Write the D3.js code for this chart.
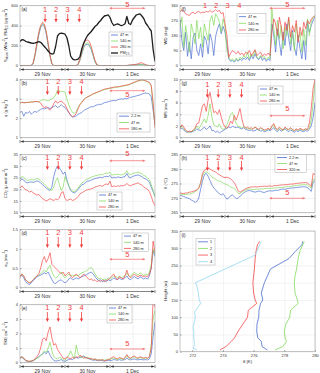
<!DOCTYPE html>
<html>
<head>
<meta charset="utf-8">
<script src="https://cdn.jsdelivr.net/npm/d3@7/dist/d3.min.js"></script>
<style>
  body { margin: 0; background: #fff; }
  svg { display: block; font-family: "Liberation Sans", Arial, sans-serif; }
  .axis path { display: none; }
  .axis line { stroke: #555; stroke-width: 0.5; }
  .axis text { font-size: 4px; fill: #333; }
  .grid line { stroke: #e6e6e6; stroke-width: 0.5; }
  .grid path { display: none; }
</style>
</head>
<body>
<svg id="chart" width="320" height="373"></svg>
<script>
// hours since 29 Nov 00:00 (local)
var hours = d3.range(0, 73);
var dayStarts = [0, 24, 48];
var dayLabels = ['29 Nov', '30 Nov', '1 Dec'];
var gridHours = [12, 24, 36, 48, 60];
var eventTimes = [14.6, 20.4, 26.6, 32.8];
var period5 = [47.5, 67];

// (a) downward shortwave and PM2.5
var sdown47 = [0,0,0,0,0,0,0, 20,98,205,305,378,408,390,318,205,92,15, 0,0,0,0,0,0,0,0,0,0,0,0,0,
  10,55,118,180,208,212,200,158,98,38,5, 0,0,0,0,0,0,0,0,0,0,0,0,0,0,0,0, 2,3,5,6,7,9,10,10,7,3,1, 0,0,0,0];
var sdown140 = [0,0,0,0,0,0,0, 22,104,215,318,390,420,402,330,215,98,17, 0,0,0,0,0,0,0,0,0,0,0,0,0,
  12,60,125,190,220,225,212,168,105,42,6, 0,0,0,0,0,0,0,0,0,0,0,0,0,0,0,0, 2,4,5,6,8,10,12,12,8,4,1, 0,0,0,0];
var sdown280 = [0,0,0,0,0,0,0, 25,110,225,330,400,432,415,340,225,105,20, 0,0,0,0,0,0,0,0,0,0,0,0,0,
  15,70,145,215,250,255,240,190,120,50,8, 0,0,0,0,0,0,0,0,0,0,0,0,0,0,0,0, 3,5,8,10,12,18,25,28,18,8,2, 0,0,0,0];
var pm25 = [240,258,255,242,235,230,225,222,226,232, 238,232,212,190,168,145,123,115,118,190,
  295,318,323,320,313,280,200,95,66,57, 58,63,90,170,225,265,300,320,340,365,
  390,405,430,450,475,495,500,507,480,430, 400,410,417,408,398,405,417,490,420,410,
  455,480,505,512,517,495,470,425,400,370, 345,160,40];

// (b) specific humidity
var q22 = [2.3,2.35,2.1,2.3,2.25,2.35,2.2,2.3,2.35,2.3, 2.4,2.45,2.5,2.48,2.52,2.55,2.5,2.55,2.6,2.65,
  2.55,2.6,2.7,2.6,2.55,2.45,2.3,2.15,2.05,2.08, 2.12,2.2,2.25,2.3,2.4,2.45,2.5,2.55,2.6,2.58,
  2.65,2.68,2.72,2.7,2.75,2.8,2.82,2.85,2.88,2.9, 2.92,2.9,2.95,2.98,3.0,2.98,3.02,3.0,3.05,3.08,
  3.1,3.12,3.15,3.18,3.2,3.25,3.28,3.3,3.28,3.25, 3.1,2.4,1.7];
var q47 = [2.78,2.82,2.8,2.8,2.82,2.82,2.84,2.84,2.86,2.86, 2.86,2.9,2.95,2.95,2.92,2.9,2.95,3.0,3.05,3.2,
  3.45,3.42,3.38,3.38,3.35,3.0,2.7,2.45,2.3,2.25, 2.35,2.55,2.72,2.85,2.96,3.04,3.1,3.14,3.2,3.25,
  3.28,3.32,3.36,3.4,3.44,3.48,3.5,3.52,3.54,3.56, 3.57,3.6,3.6,3.62,3.64,3.66,3.68,3.7,3.72,3.76,
  3.8,3.84,3.88,3.92,3.95,3.96,3.95,3.92,3.88,3.82, 3.65,2.6,1.6];
var q180 = [2.78,2.82,2.8,2.8,2.82,2.82,2.84,2.84,2.86,2.86, 2.84,2.78,2.62,2.55,2.6,2.5,2.42,2.55,2.75,2.9,
  2.78,2.85,2.88,2.8,2.7,2.5,2.3,2.15,2.08,2.12, 2.25,2.5,2.7,2.82,2.95,3.05,3.1,3.15,3.2,3.26,
  3.3,3.34,3.38,3.42,3.46,3.5,3.52,3.54,3.56,3.58, 3.6,3.62,3.62,3.64,3.66,3.68,3.7,3.72,3.74,3.78,
  3.82,3.86,3.9,3.94,3.97,3.98,3.97,3.94,3.9,3.85, 3.7,2.8,1.5];

// (c) CO2
var co2_47 = [23.5,24.5,24.0,23.0,22.8,23.0,23.2,23.0,23.2,23.6, 23.4,22.8,22.0,21.2,20.5,20.0,19.5,21.0,25.5,28.5,
  30.0,29.2,28.0,26.5,27.5,24.0,21.5,19.5,18.8,18.5, 19.0,20.0,21.0,22.0,22.2,23.0,23.5,23.6,24.0,24.3,
  24.6,24.8,25.0,25.2,25.0,25.5,25.6,25.4,26.0,24.8, 25.2,25.0,25.3,25.2,25.0,25.3,25.5,26.8,25.2,25.0,
  25.5,25.8,26.0,26.2,25.8,25.5,24.8,24.5,24.0,23.0, 21.0,19.0,17.0];
var co2_140 = [24.5,25.5,25.2,24.2,23.8,24.0,24.2,24.0,24.3,24.6, 24.4,23.8,23.0,22.2,21.5,20.6,20.0,19.5,21.0,23.5,
  25.0,22.0,19.5,21.0,25.5,23.5,21.5,20.0,19.2,19.0, 19.5,20.5,21.8,22.8,23.2,24.0,24.5,24.8,25.2,25.5,
  25.8,26.0,26.2,26.4,26.2,26.8,27.0,26.8,27.4,26.0, 26.4,26.3,26.5,26.4,26.2,26.5,26.8,28.0,26.5,26.3,
  26.8,27.0,27.2,27.4,27.0,26.8,26.0,25.6,25.0,24.2, 22.0,19.5,16.5];
var co2_280 = [20.5,21.5,20.5,19.8,19.5,18.8,19.2,18.5,18.0,17.5, 17.8,16.8,16.0,15.5,15.0,15.4,16.0,15.5,15.2,15.8,
  15.5,16.2,18.5,19.0,16.0,15.2,15.5,15.8,15.2,15.5, 16.0,17.0,18.0,18.5,19.0,19.5,19.8,20.0,20.2,20.5,
  21.0,21.2,21.5,21.6,21.3,22.0,22.3,22.0,23.5,21.0, 21.5,21.2,21.5,21.3,21.6,21.5,21.8,22.5,21.8,21.5,
  22.0,22.2,22.5,22.8,22.2,21.8,21.0,20.5,20.0,19.0, 17.0,14.5,13.0];

// (d) sigma_w
var sw47 = [0.3,0.32,0.25,0.15,0.1,0.08,0.12,0.18,0.22,0.28, 0.3,0.32,0.35,0.38,0.35,0.4,0.3,0.2,0.12,0.1,
  0.15,0.18,0.2,0.15,0.12,0.15,0.22,0.25,0.2,0.22, 0.25,0.22,0.25,0.28,0.3,0.32,0.35,0.38,0.4,0.35,
  0.28,0.22,0.18,0.2,0.15,0.18,0.15,0.2,0.18,0.2, 0.25,0.22,0.2,0.25,0.2,0.22,0.25,0.3,0.22,0.2,
  0.25,0.28,0.25,0.22,0.28,0.25,0.22,0.25,0.22,0.3, 0.5,0.95,0.8];
var sw140 = [0.3,0.35,0.28,0.2,0.15,0.12,0.15,0.2,0.25,0.3, 0.32,0.35,0.4,0.45,0.4,0.5,0.58,0.4,0.3,0.25,
  0.28,0.35,0.4,0.3,0.25,0.3,0.35,0.3,0.32,0.3, 0.32,0.3,0.35,0.38,0.4,0.42,0.45,0.5,0.52,0.45,
  0.35,0.28,0.22,0.25,0.2,0.22,0.2,0.25,0.22,0.25, 0.3,0.28,0.25,0.3,0.25,0.28,0.3,0.38,0.3,0.28,
  0.35,0.4,0.35,0.32,0.38,0.35,0.3,0.35,0.32,0.4, 0.6,1.0,0.85];
var sw280 = [0.25,0.35,0.3,0.2,0.15,0.12,0.15,0.2,0.25,0.3, 0.35,0.5,0.7,0.8,0.65,0.75,0.9,0.6,0.55,0.5,
  0.45,0.4,0.35,0.4,0.3,0.35,0.4,0.3,0.25,0.3, 0.35,0.3,0.25,0.3,0.35,0.3,0.25,0.2,0.22,0.18,
  0.2,0.15,0.18,0.15,0.2,0.15,0.18,0.2,0.25,0.3, 0.35,0.25,0.2,0.28,0.25,0.22,0.3,0.45,0.3,0.25,
  0.3,0.35,0.3,0.28,0.32,0.3,0.28,0.3,0.28,0.35, 0.5,1.2,0.9];

// (e) TKE
var tke47 = [0.3,0.35,0.25,0.12,0.08,0.06,0.08,0.12,0.2,0.3, 0.4,0.5,0.6,0.7,0.6,0.8,0.5,0.3,0.15,0.1,
  0.12,0.15,0.2,0.1,0.08,0.15,0.2,0.25,0.2,0.3, 0.35,0.3,0.35,0.4,0.45,0.35,0.3,0.25,0.2,0.15,
  0.18,0.15,0.12,0.15,0.12,0.1,0.12,0.15,0.12,0.15, 0.2,0.18,0.15,0.2,0.15,0.18,0.2,0.3,0.2,0.18,
  0.22,0.25,0.2,0.18,0.22,0.2,0.18,0.2,0.18,0.25, 0.6,1.8,2.8];
var tke140 = [0.35,0.4,0.3,0.15,0.1,0.08,0.1,0.15,0.2,0.3, 0.35,0.45,0.6,0.8,0.7,1.0,1.4,0.8,0.4,0.3,
  0.25,0.35,0.3,0.2,0.15,0.3,0.5,0.8,0.5,0.3, 1.2,0.6,0.4,0.35,0.4,0.3,0.35,0.3,0.25,0.2,
  0.25,0.2,0.15,0.2,0.18,0.15,0.2,0.22,0.2,0.28, 0.3,0.25,0.2,0.3,0.25,0.2,0.3,0.45,0.3,0.25,
  0.35,0.38,0.3,0.28,0.35,0.3,0.28,0.3,0.28,0.4, 1.2,3.0,3.6];
var tke280 = [0.3,0.4,0.3,0.15,0.1,0.08,0.1,0.15,0.25,0.4, 0.6,1.0,1.6,1.7,1.5,2.1,2.45,1.7,1.2,1.3,
  0.9,0.7,0.5,0.3,0.25,0.4,0.3,0.25,0.35,0.3, 0.4,0.35,0.5,0.4,0.3,0.35,0.3,0.25,0.3,0.2,
  0.25,0.15,0.2,0.15,0.2,0.12,0.15,0.2,0.25,0.35, 0.4,0.3,0.25,0.35,0.3,0.25,0.35,0.55,0.35,0.3,
  0.4,0.45,0.35,0.3,0.4,0.35,0.3,0.35,0.3,0.4, 1.0,4.5,3.8];

// (f) wind direction
var wd47 = [275,150,90,200,55,140,40,170,195,90, 60,130,50,175,150,70,190,150,60,175,
  220,250,190,235,200,130,40,25,30,20, 35,25,40,30,45,35,50,30,60,40,
  70,45,35,55,30,45,25,40,30,250, 180,80,220,140,60,200,120,250,160,90,
  210,110,60,180,100,40,150,35,260,200, 240,270,290];
var wd140 = [230,290,110,240,170,80,250,200,130,270, 160,230,110,250,200,150,270,300,240,310,
  290,260,200,280,230,90,50,30,40,25, 45,30,50,40,60,45,80,40,70,55,
  90,50,40,60,45,55,35,50,40,340, 220,120,270,160,240,100,230,180,280,130,
  200,90,250,150,200,80,220,120,280,180, 260,290,295];
var wd280 = [320,335,325,310,305,300,315,320,310,320, 325,315,320,318,325,320,330,320,325,335,
  325,330,310,318,250,180,50,75,90,80, 70,85,65,75,60,80,70,90,60,75,
  95,60,70,80,55,70,60,75,60,200, 280,250,180,290,230,150,260,210,290,170,
  240,200,270,140,230,180,260,220,270,250, 280,290,300];

// (g) wind speed
var ws47 = [1.5,1.6,1.3,1.0,0.9,1.0,0.9,1.1,1.2,1.5, 1.3,1.2,1.5,1.8,1.4,1.6,2.0,1.2,1.2,0.9,
  1.1,0.8,1.0,1.2,1.4,1.6,1.8,1.7,1.9,1.8, 1.7,1.8,1.6,1.5,1.7,1.4,1.3,1.2,1.3,1.1,
  1.2,1.4,1.3,1.1,1.2,1.0,1.1,1.3,1.2,1.4, 1.7,1.2,1.0,1.4,1.1,1.3,1.5,1.2,1.0,1.3,
  1.1,0.9,1.2,1.0,1.3,1.1,1.0,1.2,1.1,1.4, 2.0,3.5,6.0];
var ws140 = [1.8,2.0,1.5,1.2,1.0,0.9,1.0,1.1,1.4,2.0, 1.5,2.0,2.6,3.2,2.5,3.8,5.8,3.5,2.2,2.0,
  1.8,2.3,1.6,1.4,1.6,2.2,3.0,4.0,4.3,3.2, 2.4,1.9,1.8,1.6,1.9,1.7,1.5,1.6,1.4,1.6,
  1.8,1.5,1.3,1.6,1.4,1.2,1.3,1.5,1.4,1.8, 2.2,1.5,1.3,1.6,1.4,1.2,1.7,1.4,1.3,1.6,
  1.3,1.1,1.4,1.2,1.5,1.3,1.2,1.4,1.3,1.7, 3.0,6.0,9.5];
var ws280 = [1.6,2.2,1.8,1.3,1.0,1.1,1.0,1.3,1.6,2.4, 2.5,4.0,5.5,5.8,4.5,6.5,7.8,6.0,4.3,4.5,
  4.0,4.8,3.5,2.4,1.8,1.6,2.0,2.8,2.4,3.8, 3.0,4.0,5.0,3.2,2.0,1.6,1.8,1.5,1.7,1.4,
  1.8,1.6,1.4,1.7,1.5,1.3,1.4,1.6,1.3,2.0, 2.4,1.6,1.4,1.8,1.5,1.3,1.8,1.5,1.4,1.7,
  1.4,1.2,1.5,1.3,1.6,1.4,1.3,1.5,1.4,2.5, 5.0,8.5,10];

// (h) potential temperature
var th22 = [271.0,270.8,270.5,270.2,270.0,269.8,269.3,269.0,268.5,268.8, 270.0,273.0,276.0,278.0,278.5,277.5,276.0,274.5,273.5,272.8,
  272.0,271.5,271.0,271.5,270.5,269.6,270.0,270.8,271.0,270.4, 269.8,270.0,270.6,271.2,271.8,272.2,272.5,272.6,272.4,272.2,
  272.0,272.2,272.4,272.3,272.0,271.9,272.2,272.4,272.5,272.4, 272.5,272.7,272.6,272.8,273.0,273.1,273.0,273.2,273.3,273.4,
  273.5,273.5,273.6,273.7,273.8,273.8,273.9,273.8,273.6,272.8, 272.3,275.5,276.0];
var th47 = [271.5,271.3,271.2,271.2,271.3,271.4,271.5,271.8,272.2,272.6, 273.5,275.5,277.8,278.8,279.0,278.7,278.0,277.2,276.8,276.5,
  276.0,275.8,275.6,275.2,274.8,274.6,274.2,273.8,273.5,273.2, 272.6,271.6,271.5,272.0,272.5,272.8,273.0,273.2,273.0,272.9,
  273.0,273.1,273.0,273.2,273.1,273.2,273.3,273.3,273.4,273.3, 273.4,273.5,273.5,273.6,273.6,273.7,273.8,273.9,274.0,274.0,
  274.1,274.2,274.3,274.4,274.5,274.5,274.6,274.6,274.5,273.8, 273.5,276.5,276.5];
var th320 = [271.8,271.6,271.6,271.7,271.8,272.0,272.1,272.3,272.5,272.8, 273.5,275.0,278.5,279.6,280.0,280.2,280.0,279.6,279.2,279.0,
  278.4,278.0,277.6,277.2,277.0,277.2,277.0,276.6,276.0,275.2, 274.0,272.5,272.0,272.4,272.8,273.2,273.5,273.7,273.8,273.8,
  273.9,273.8,273.9,274.0,274.0,274.1,274.0,274.1,274.2,274.0, 274.2,274.3,274.3,274.4,274.5,274.5,274.6,274.6,274.7,274.8,
  274.8,274.9,275.0,275.1,275.2,275.2,275.3,275.3,275.2,274.5, 274.0,278.5,278.0];

// (i) sounding profiles 1-4
var prof1H = [5,15,30,40,60,80,100,120,140,150,170,200,220,240,270,290,310,320];
var prof1T = [276.9,276.55,276.5,276.27,276.2,276.22,276.33,276.35,276.45,276.6,276.5,276.7,276.9,277.1,278.3,278.7,279.15,279.2];
var prof2H = [5,15,30,40,60,80,100,120,140,150,170,200,220,240,270,290,310,320];
var prof2T = [277.4,277.9,278.15,278.05,278.0,278.1,278.35,278.4,278.9,278.85,278.7,278.65,278.7,278.8,278.9,279.0,279.2,279.3];
var prof3H = [5,15,30,40,60,80,100,120,140,150,170,200,220,240,270,290,310,320];
var prof3T = [273.8,274.2,274.55,274.75,275.0,275.3,275.6,275.65,276.2,276.1,276.0,275.95,276.0,276.05,276.1,276.15,276.25,276.4];
var prof4H = [5,10,20,40,60,70,90,100,115,125,140,150,170,190,200,280,300,320];
var prof4T = [272.3,272.05,272.15,272.1,272.1,272.05,272.15,272.2,272.15,272.3,272.55,272.45,272.4,272.3,272.2,276.1,276.3,276.5];

var blue = '#4d6fd1', green = '#82da5c', red = '#f24848', annoRed = '#f23c3c', cyan = '#92d8ef', black = '#1e1e1e';
var cols = [[20, 155], [180, 315]];
var rows = [[5.5, 65.5], [79.5, 137.5], [154.5, 212.5], [229.5, 287.5], [304.5, 362.5]];

var panels = [
  { key: 'a', col: 0, row: 0, dom: [0, 600], ticks: [0, 200, 400, 600],
    label: [['S'], ['down', 'sub'], [' (Wm'], ['-2', 'sup'], ['), PM'], ['2.5', 'sub'], [' (\u03bcg m'], ['-3', 'sup'], [')']],
    series: [[sdown47, blue], [sdown140, green], [sdown280, red], [pm25, black, 1.3]],
    legend: { x: 109, y: 32, w: 23, h: 24, items: [['47 m', blue], ['140 m', green], ['280 m', red], [[['PM'], ['2.5', 'sub']], black, 1.3]] },
    num: 9.5, arr: [14, 22.5], shift: -1.2, p5: 8.3, p5l: 4.3 },
  { key: 'b', col: 0, row: 1, dom: [1, 4], ticks: [1, 2, 3, 4],
    label: [['q (g kg'], ['-1', 'sup'], [')']],
    series: [[q22, blue], [q47, green], [q180, red]],
    legend: { x: 117, y: 113, w: 33, h: 19, line: 10, items: [['2.2 m', blue], ['47 m', green], ['180 m', red]] },
    num: 81.7, arr: [86, 95], shift: 0, p5: 90.7, p5l: 94.5 },
  { key: 'c', col: 0, row: 2, dom: [10, 35], ticks: [10, 15, 20, 25, 30, 35],
    label: [['CO'], ['2', 'sub'], [' (\u03bc mol m'], ['-3', 'sup'], [')']],
    series: [[co2_47, blue], [co2_140, green], [co2_280, red]],
    legend: { x: 97, y: 192, w: 25, h: 18, items: [['47 m', blue], ['140 m', green], ['280 m', red]] },
    num: 157, arr: [161, 170], shift: 0, p5: 160.7, p5l: 153 },
  { key: 'd', col: 0, row: 3, dom: [0, 1.5], ticks: [0, 0.5, 1, 1.5],
    label: [['\u03c3'], ['w', 'sub'], [' (ms'], ['-1', 'sup'], [')']],
    series: [[sw47, blue], [sw140, green], [sw280, red]],
    legend: { x: 122, y: 233, w: 26.5, h: 18.5, items: [['47 m', blue], ['140 m', green], ['280 m', red]] },
    num: 232.3, arr: [237, 248], shift: 0, p5: 259.3, p5l: 254 },
  { key: 'e', col: 0, row: 4, dom: [0, 4], ticks: [0, 1, 2, 3, 4],
    label: [['TKE (m'], ['2', 'sup'], [' s'], ['-2', 'sup'], [')']],
    series: [[tke47, blue], [tke140, green], [tke280, red]],
    legend: { x: 107, y: 305, w: 25, h: 18, items: [['47 m', blue], ['140 m', green], ['280 m', red]] },
    num: 307, arr: [312, 322], shift: 0, p5: 349, p5l: 343 },
  { key: 'f', col: 1, row: 0, dom: [0, 360], ticks: [0, 90, 180, 270, 360],
    label: [['WD (deg)']],
    series: [[wd47, blue], [wd140, green], [wd280, red]],
    legend: { x: 237, y: 13.3, w: 29, h: 20, items: [['47 m', blue], ['140 m', green], ['280 m', red]] },
    num: 5.2, arr: null, shift: -1.2, p5: 8.3, p5l: 4.2 },
  { key: 'g', col: 1, row: 1, dom: [0, 10], ticks: [0, 2, 4, 6, 8, 10],
    label: [['WS (ms'], ['-1', 'sup'], [')']],
    series: [[ws47, blue], [ws140, green], [ws280, red]],
    legend: { x: 258, y: 86, w: 25, h: 18, items: [['47 m', blue], ['140 m', green], ['280 m', red]] },
    num: 84, arr: [89, 98], shift: 0, p5: 115.7, p5l: 108 },
  { key: 'h', col: 1, row: 2, dom: [265, 285], ticks: [265, 270, 275, 280, 285],
    label: [['\u03b8 (\u00b0C)']],
    series: [[th22, blue], [th47, green], [th320, red]],
    legend: { x: 275, y: 154.5, w: 31.5, h: 18, line: 10, items: [['2.2 m', blue], ['47 m', green], ['320 m', red]] },
    num: 157, arr: [161, 171], shift: 0, p5: 198.3, p5l: 192 }
];

var svg = d3.select('#chart');

function rich(sel, pieces, fs) {
  var cur = 0;
  pieces.forEach(function (p) {
    var target = p[1] === 'sub' ? fs * 0.3 : p[1] === 'sup' ? -fs * 0.4 : 0;
    sel.append('tspan').attr('dy', target - cur).attr('font-size', p[1] ? fs * 0.72 : fs).text(p[0]);
    cur = target;
  });
}

function legend(g, L) {
  var ll = L.line || 7;
  g.append('rect').attr('x', L.x).attr('y', L.y).attr('width', L.w).attr('height', L.h)
    .attr('fill', '#fff').attr('stroke', '#9a9a9a').attr('stroke-width', 0.4);
  var rowH = L.h / L.items.length;
  L.items.forEach(function (it, i) {
    var cy = L.y + rowH * (i + 0.5);
    g.append('line').attr('x1', L.x + 2).attr('x2', L.x + 2 + ll).attr('y1', cy).attr('y2', cy)
      .attr('stroke', it[1]).attr('stroke-width', it[2] || 0.8);
    var t = g.append('text').attr('x', L.x + 4 + ll).attr('y', cy + 1.3).attr('font-size', 3.8).attr('fill', '#222');
    if (typeof it[0] === 'string') t.text(it[0]); else rich(t, it[0], 3.8);
  });
}

function arrowHead(g, x, y, dir, col) {
  // dir: 'down', 'left', 'right'
  var d = dir === 'down' ? 'M' + x + ',' + y + 'l-1.6,-3.4h3.2z'
    : dir === 'left' ? 'M' + x + ',' + y + 'l3,-1.3v2.6z'
    : 'M' + x + ',' + y + 'l-3,-1.3v2.6z';
  g.append('path').attr('d', d).attr('fill', col);
}

function annotate(g, x, p) {
  eventTimes.forEach(function (t, i) {
    var xe = x(t + p.shift);
    g.append('text').attr('x', xe).attr('y', p.num).attr('dy', '0.36em').attr('text-anchor', 'middle')
      .attr('font-size', 7.5).attr('fill', annoRed).text(i + 1);
    if (p.arr) {
      g.append('line').attr('x1', xe).attr('x2', xe).attr('y1', p.arr[0]).attr('y2', p.arr[1] - 3)
        .attr('stroke', annoRed).attr('stroke-width', 0.8);
      arrowHead(g, xe, p.arr[1], 'down', annoRed);
    }
  });
  var xa = x(period5[0]), xb = x(period5[1]);
  g.append('line').attr('x1', xa + 2).attr('x2', xb - 2).attr('y1', p.p5).attr('y2', p.p5)
    .attr('stroke', '#f67a7a').attr('stroke-width', 0.8);
  arrowHead(g, xa, p.p5, 'left', '#f67a7a');
  arrowHead(g, xb, p.p5, 'right', '#f67a7a');
  g.append('text').attr('x', x((period5[0] + period5[1]) / 2)).attr('y', p.p5l).attr('dy', '0.36em')
    .attr('text-anchor', 'middle').attr('font-size', 7.5).attr('fill', annoRed).text('5');
}

function dayArrows(g, x, yy) {
  dayStarts.forEach(function (d, i) {
    var xa = x(d) + 0.7, xb = x(d + 24) - 0.7;
    g.append('line').attr('x1', xa).attr('x2', xb).attr('y1', yy).attr('y2', yy)
      .attr('stroke', '#333').attr('stroke-width', 0.6);
    arrowHead(g, xa, yy, 'left', '#333');
    arrowHead(g, xb, yy, 'right', '#333');
    g.append('text').attr('x', x(d + 12)).attr('y', yy + 6.3).attr('text-anchor', 'middle')
      .attr('font-size', 5).attr('fill', '#333').text(dayLabels[i]);
  });
  [0, 24, 48, 72].forEach(function (d) {
    g.append('line').attr('x1', x(d)).attr('x2', x(d)).attr('y1', yy - 1.6).attr('y2', yy + 1.6)
      .attr('stroke', '#333').attr('stroke-width', 0.6);
  });
}

panels.forEach(function (p) {
  var xr = cols[p.col], yr = rows[p.row];
  var x = d3.scaleLinear().domain([0, 72]).range(xr);
  var y = d3.scaleLinear().domain(p.dom).range([yr[1], yr[0]]);
  var g = svg.append('g');
  var clipId = 'clip-' + p.key;
  svg.append('clipPath').attr('id', clipId).append('rect')
    .attr('x', xr[0]).attr('y', yr[0]).attr('width', xr[1] - xr[0]).attr('height', yr[1] - yr[0]);

  // grid
  g.append('g').attr('class', 'grid').attr('transform', 'translate(' + xr[0] + ',0)')
    .call(d3.axisLeft(y).tickValues(p.ticks).tickSize(-(xr[1] - xr[0])).tickFormat(''));
  g.append('g').attr('class', 'grid').attr('transform', 'translate(0,' + yr[1] + ')')
    .call(d3.axisBottom(x).tickValues(gridHours).tickSize(yr[0] - yr[1]).tickFormat(''));

  // lines
  var line = d3.line().x(function (d, i) { return x(hours[i]); }).y(function (d) { return y(d); });
  p.series.forEach(function (s) {
    g.append('path').attr('clip-path', 'url(#' + clipId + ')').attr('d', line(s[0]))
      .attr('fill', 'none').attr('stroke', s[1]).attr('stroke-width', s[2] || 0.7).attr('stroke-linejoin', 'round');
  });

  // frame + y axis
  g.append('rect').attr('x', xr[0]).attr('y', yr[0]).attr('width', xr[1] - xr[0]).attr('height', yr[1] - yr[0])
    .attr('fill', 'none').attr('stroke', '#8c8c8c').attr('stroke-width', 0.5);
  g.append('g').attr('class', 'axis').attr('transform', 'translate(' + xr[0] + ',0)')
    .call(d3.axisLeft(y).tickValues(p.ticks).tickSize(-1.5).tickPadding(2).tickFormat(d3.format('')));

  var yl = g.append('text').attr('transform', 'translate(' + (xr[0] - 13) + ',' + ((yr[0] + yr[1]) / 2) + ') rotate(-90)')
    .attr('text-anchor', 'middle').attr('font-size', 4.2).attr('fill', '#222');
  rich(yl, p.label, 4.2);

  g.append('text').attr('x', xr[0] + 1.5).attr('y', yr[0] + 5).attr('font-size', 4.5).attr('fill', '#111').text('(' + p.key + ')');

  legend(g, p.legend);
  annotate(g, x, p);
  dayArrows(g, x, yr[1] + 4);
});

// (i) profiles
(function () {
  var xi = d3.scaleLinear().domain([271.2, 280]).range([180, 315]);
  var yi = d3.scaleLinear().domain([0, 350]).range([351.7, 231]);
  var g = svg.append('g');
  var xt = [272, 274, 276, 278, 280], yt = d3.range(0, 351, 50);
  g.append('g').attr('class', 'grid').attr('transform', 'translate(180,0)')
    .call(d3.axisLeft(yi).tickValues(yt).tickSize(-135).tickFormat(''));
  g.append('g').attr('class', 'grid').attr('transform', 'translate(0,351.7)')
    .call(d3.axisBottom(xi).tickValues(xt).tickSize(-120.7).tickFormat(''));

  var profs = [[prof1H, prof1T, blue], [prof2H, prof2T, green], [prof3H, prof3T, red], [prof4H, prof4T, cyan]];
  profs.forEach(function (pr) {
    var line = d3.line().x(function (d, i) { return xi(pr[1][i]); }).y(function (d) { return yi(d); });
    g.append('path').attr('d', line(pr[0])).attr('fill', 'none').attr('stroke', pr[2]).attr('stroke-width', 0.8);
  });

  g.append('rect').attr('x', 180).attr('y', 231).attr('width', 135).attr('height', 120.7)
    .attr('fill', 'none').attr('stroke', '#8c8c8c').attr('stroke-width', 0.5);
  g.append('g').attr('class', 'axis').attr('transform', 'translate(180,0)')
    .call(d3.axisLeft(yi).tickValues(yt).tickSize(-1.5).tickPadding(2));
  g.append('g').attr('class', 'axis').attr('transform', 'translate(0,351.7)')
    .call(d3.axisBottom(xi).tickValues(xt).tickSize(-1.5).tickPadding(2.5));

  g.append('text').attr('transform', 'translate(167,291) rotate(-90)').attr('text-anchor', 'middle')
    .attr('font-size', 4.2).attr('fill', '#222').text('Height (m)');
  g.append('text').attr('x', 247.5).attr('y', 363).attr('text-anchor', 'middle')
    .attr('font-size', 4.2).attr('fill', '#222').text('\u03b8 (K)');
  g.append('text').attr('x', 181.5).attr('y', 237).attr('font-size', 4.5).attr('fill', '#111').text('(i)');

  legend(g, { x: 196, y: 238.5, w: 19, h: 26.5, line: 10, items: [['1', blue], ['2', green], ['3', red], ['4', cyan]] });
})();
</script>
</body>
</html>
